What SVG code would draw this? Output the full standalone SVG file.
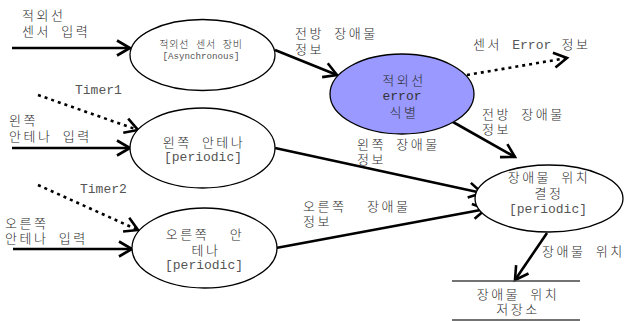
<svg xmlns="http://www.w3.org/2000/svg" width="627" height="321" viewBox="0 0 627 321">
  <style>
    text { font-family: "Liberation Mono", "Noto Sans CJK KR", monospace; fill: #2a2a2a; }
    .ko { font-size: 13px; letter-spacing: 2.5px; font-weight: 300; }
    .en { font-size: 13px; letter-spacing: 0; font-weight: 400; fill: #555; }
    .mid { text-anchor: middle; }
    .proc { fill: #ffffff; stroke: #000; stroke-width: 1.3; }
    .hot { fill: #9999ff; }
    .flow { fill: none; stroke: #000; stroke-width: 2.6; marker-end: url(#head); }
    .ctrl { fill: none; stroke: #000; stroke-width: 2.6; stroke-dasharray: 3 4; marker-end: url(#head); }
    .store { stroke: #444; stroke-width: 1.5; }
  </style>
  <defs>
    <marker id="head" viewBox="-16 -10 20 20" markerWidth="20" markerHeight="20" refX="0" refY="0" orient="auto" markerUnits="userSpaceOnUse" overflow="visible">
      <path d="M-13,-7.5 L0,0 L-13,7.5" fill="none" stroke="#000" stroke-width="2.6"/>
    </marker>
  </defs>

  <!-- data / control flows -->
  <g id="connectors">
    <line class="flow" x1="12" y1="48" x2="130" y2="48"/>
    <line class="flow" x1="12" y1="148" x2="130" y2="148"/>
    <line class="flow" x1="13" y1="249" x2="132" y2="249"/>
    <line class="ctrl" x1="38" y1="95" x2="138" y2="130"/>
    <line class="ctrl" x1="38" y1="185" x2="138" y2="230"/>
    <line class="flow" x1="275" y1="50" x2="337" y2="75"/>
    <line class="ctrl" x1="467" y1="75" x2="567" y2="58"/>
    <line class="flow" x1="453" y1="122" x2="515" y2="157"/>
    <line class="flow" x1="275" y1="148" x2="482" y2="193"/>
    <line class="flow" x1="276" y1="248" x2="486" y2="209"/>
    <line class="flow" x1="547" y1="233" x2="515" y2="280"/>

    <text class="ko" x="22" y="20">적외선</text>
    <text class="ko" x="22" y="36">센서 입력</text>
    <text class="ko" x="9" y="125">왼쪽</text>
    <text class="ko" x="9" y="141">안테나 입력</text>
    <text class="ko" x="5" y="228">오른쪽</text>
    <text class="ko" x="5" y="243">안테나 입력</text>
    <text class="en" x="75" y="94">Timer1</text>
    <text class="en" x="80" y="193">Timer2</text>
    <text class="ko" x="295" y="38">전방 장애물</text>
    <text class="ko" x="295" y="54">정보</text>
    <text class="ko" x="473" y="49">센서 <tspan class="en">Error</tspan> 정보</text>
    <text class="ko" x="482" y="119">전방 장애물</text>
    <text class="ko" x="482" y="134">정보</text>
    <text class="ko" x="357" y="149">왼쪽 장애물</text>
    <text class="ko" x="357" y="164">정보</text>
    <text class="ko" x="303" y="211" xml:space="preserve">오른쪽  장애물</text>
    <text class="ko" x="303" y="226">정보</text>
    <text class="ko" x="542" y="256">장애물 위치</text>
  </g>

  <g id="ir-sensor">
    <ellipse class="proc" cx="202.5" cy="55" rx="72.5" ry="35.5"/>
    <text class="mid" x="201" y="48" style="font-size:10px;letter-spacing:0.8px;font-weight:300">적외선 센서 장비</text>
    <text class="mid" x="201" y="59" style="font-size:9.2px;fill:#555">[Asynchronous]</text>
  </g>

  <g id="ir-error">
    <ellipse class="proc hot" cx="402" cy="94" rx="72" ry="40"/>
    <text class="ko mid" x="404" y="85">적외선</text>
    <text class="en mid" x="402" y="100" style="fill:#333">error</text>
    <text class="ko mid" x="404" y="117">식별</text>
  </g>

  <g id="left-antenna">
    <ellipse class="proc" cx="202.5" cy="148" rx="72.5" ry="40"/>
    <text class="ko mid" x="204" y="147">왼쪽 안테나</text>
    <text class="en mid" x="203" y="161">[periodic]</text>
  </g>

  <g id="right-antenna">
    <ellipse class="proc" cx="204.5" cy="248" rx="72.5" ry="40"/>
    <text class="ko mid" x="205" y="239" xml:space="preserve">오른쪽  안</text>
    <text class="ko mid" x="206" y="255">테나</text>
    <text class="en mid" x="204" y="269">[periodic]</text>
  </g>

  <g id="position">
    <ellipse class="proc" cx="549" cy="198.5" rx="74" ry="33.5"/>
    <text class="ko mid" x="549" y="182">장애물 위치</text>
    <text class="ko mid" x="549" y="198">결정</text>
    <text class="en mid" x="548" y="213">[periodic]</text>
  </g>

  <g id="position-store">
    <line class="store" x1="452" y1="281" x2="580" y2="281"/>
    <line class="store" x1="452" y1="320" x2="580" y2="320"/>
    <text class="ko mid" x="518" y="299">장애물 위치</text>
    <text class="ko mid" x="518" y="314">저장소</text>
  </g>
</svg>
